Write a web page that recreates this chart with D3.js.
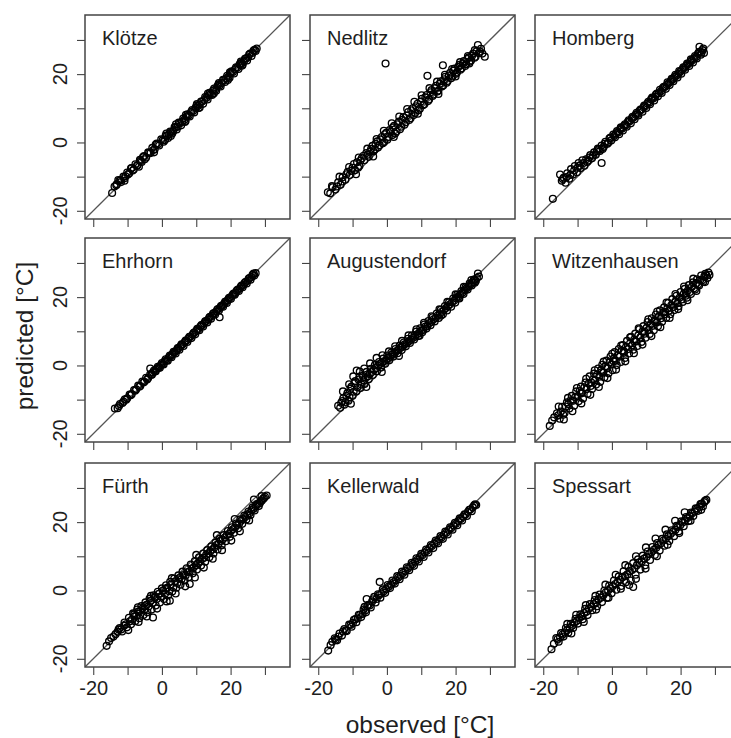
<!DOCTYPE html>
<html><head><meta charset="utf-8">
<script src="https://cdn.jsdelivr.net/npm/d3@7"></script>
<style>
html,body{margin:0;padding:0;background:#fff;}
svg{display:block;font-family:"Liberation Sans",Arial,Helvetica,sans-serif;}
</style></head>
<body>
<svg id="chart" width="731" height="738"></svg>
<script>
// ---- data: [observed, predicted] in °C ----
const stations = ["Klötze","Nedlitz","Homberg","Ehrhorn","Augustendorf","Witzenhausen","Fürth","Kellerwald","Spessart"];
const tickValues = [-20,-10,0,10,20,30];
const tickLabels = ["-20","","0","","20",""];
const xTitle = "observed [°C]";
const yTitle = "predicted [°C]";

const klotze = [[-14.5,-14.8],[-13.8,-12.9],[-13.1,-12.2],[-12.4,-11.3],[-11.9,-11.6],[-11.2,-10.0],[-10.6,-9.9],[-10.1,-8.8],[-9.5,-9.0],[-8.8,-7.5],[-8.2,-7.9],[-7.7,-6.4],[-7.1,-6.6],[-6.4,-5.1],[-5.9,-5.7],[-5.2,-4.0],[-4.6,-4.4],[-4.0,-2.9],[-3.3,-3.1],[-2.8,-1.6],[-2.1,-2.0],[-1.5,-0.3],[-0.8,-0.9],[-0.2,0.9],[0.5,0.2],[1.1,2.0],[1.8,1.3],[2.4,3.2],[3.0,2.6],[3.7,4.5],[4.3,3.8],[4.9,5.8],[5.6,5.0],[6.2,7.0],[6.9,6.3],[7.5,8.2],[8.1,7.6],[8.8,9.5],[9.4,8.8],[10.1,10.8],[10.7,10.1],[11.4,12.0],[12.0,11.3],[12.6,13.3],[13.3,12.6],[13.9,14.5],[14.6,13.9],[15.2,15.8],[15.8,15.1],[16.5,17.0],[17.1,16.4],[17.8,18.3],[18.4,17.7],[19.0,19.5],[19.7,18.9],[20.3,20.8],[21.0,20.2],[21.6,22.0],[22.3,21.5],[22.9,23.2],[23.5,22.8],[24.2,24.5],[24.8,24.0],[25.4,25.7],[26.1,25.3],[26.7,26.9],[27.3,26.8],[27.6,27.5],
[-13.3,-12.5],[-12.0,-11.0],[-10.9,-10.5],[-9.9,-9.4],[-8.5,-8.2],[-7.3,-6.9],[-6.2,-5.4],[-5.0,-4.9],[-3.7,-3.0],[-2.5,-2.2],[-1.1,-0.5],[0.2,0.6],[0.9,0.7],[1.5,1.9],[2.1,2.4],[2.7,3.0],[3.3,3.3],[4.0,4.4],[4.6,4.6],[5.3,5.6],[5.9,6.1],[6.5,6.6],[7.2,7.6],[7.8,7.9],[8.5,8.9],[9.1,9.2],[9.8,10.1],[10.4,10.6],[11.0,11.1],[11.7,12.0],[12.3,12.4],[13.0,13.1],[13.6,13.8],[14.2,14.1],[14.9,15.2],[15.5,15.4],[16.2,16.5],[16.8,16.7],[17.4,17.4],[18.1,18.2],[18.7,18.8],[19.4,19.2],[20.0,20.2],[20.7,20.6],[21.3,21.4],[22.0,21.9],[22.6,22.8],[23.2,23.1],[23.9,23.8],[24.5,24.6],[25.1,24.9],[25.7,26.0],[26.4,26.2],[27.0,27.1],
[-12.7,-11.0],[-9.0,-7.6],[-5.5,-4.3],[-1.8,-0.6],[1.3,2.6],[4.1,5.3],[7.0,8.1],[10.2,11.2],[13.4,14.3],[16.6,17.4],[19.8,20.5],[23.0,23.7],[-10.9,-11.2],[-6.7,-7.1],[-2.3,-2.9],[2.6,1.9],[6.7,6.0],[11.0,10.2],[15.1,14.3],[19.2,18.3],[23.4,22.5]];
const nedlitz = [[-17.2,-14.6],[-16.5,-14.9],[-15.8,-13.1],[-15.0,-13.8],[-14.2,-11.7],[-13.5,-12.4],[-12.9,-10.2],[-12.1,-10.9],[-11.4,-8.6],[-10.8,-9.5],[-10.0,-7.4],[-9.3,-8.1],[-8.7,-5.8],[-8.0,-6.9],[-7.3,-4.6],[-6.6,-5.2],[-6.0,-3.1],[-5.3,-4.2],[-4.6,-1.9],[-3.9,-2.6],[-3.3,-0.4],[-2.6,-1.5],[-1.9,0.9],[-1.2,-0.2],[-0.6,2.4],[0.1,0.8],[0.8,3.6],[1.5,2.1],[2.1,4.9],[2.8,3.2],[3.5,6.1],[4.2,4.6],[4.8,7.4],[5.5,5.9],[6.2,8.9],[6.9,7.1],[7.5,10.0],[8.2,8.6],[8.9,11.3],[9.6,9.9],[10.2,12.8],[10.9,11.2],[11.8,19.5],[11.6,13.9],[12.3,12.6],[13.0,15.3],[13.6,14.0],[14.3,16.6],[15.0,15.2],[15.7,17.9],[16.3,22.6],[16.4,16.7],[17.0,19.2],[17.7,18.0],[18.4,20.4],[19.1,19.3],[19.7,21.6],[20.4,20.5],[21.1,22.7],[21.8,21.7],[22.4,23.8],[23.1,22.9],[23.8,24.9],[24.5,24.0],[25.1,26.0],[25.8,25.1],[26.5,28.5],[27.1,26.6],[27.8,26.0],[28.5,25.1],[-0.4,23.1],
[-16.0,-12.8],[-14.6,-12.9],[-13.0,-11.4],[-11.8,-9.3],[-10.4,-8.3],[-9.6,-6.3],[-8.4,-7.4],[-7.7,-5.3],[-6.8,-3.9],[-5.6,-3.6],[-4.9,-2.7],[-4.2,-1.0],[-3.5,-2.0],[-2.8,0.3],[-2.1,-0.8],[-1.5,1.6],[-0.8,0.1],[-0.2,2.8],[0.5,1.6],[1.1,3.1],[1.8,4.4],[2.4,2.6],[3.1,5.3],[3.8,3.9],[4.5,6.6],[5.1,5.2],[5.8,7.9],[6.5,6.6],[7.1,9.4],[7.8,8.0],[8.5,10.6],[9.2,9.4],[9.9,12.0],[10.5,10.9],[11.2,13.2],[12.0,12.1],[12.7,14.7],[13.3,13.6],[14.0,15.9],[14.7,14.9],[15.4,17.2],[16.0,16.4],[16.7,18.5],[17.4,17.5],[18.0,19.6],[18.7,18.8],[19.4,21.0],[20.1,20.1],[20.8,22.1],[21.4,21.3],[22.1,23.1],[22.8,22.4],[23.4,24.4],[24.1,23.6],[24.8,25.4],[25.5,24.8],[26.1,26.7],[26.8,26.1],[27.4,27.4],
[-13.8,-10.0],[-11.0,-7.2],[-8.2,-4.4],[-5.7,-1.8],[-3.0,1.0],[-0.9,3.4],[1.4,5.6],[3.6,7.6],[5.9,9.8],[8.0,11.9],[10.1,13.8],[12.4,15.9],[14.6,17.8],[16.9,19.8],[19.0,21.5],[21.3,23.5],[23.6,25.3],[25.6,27.0],[-9.0,-9.3],[-4.0,-4.1],[2.0,1.6],[9.0,8.4],[15.0,14.2],[20.0,19.3],[24.0,23.1]];
const homberg = [[-17.2,-16.5],[-15.1,-9.4],[-14.6,-11.2],[-14.0,-10.3],[-13.5,-11.8],[-13.0,-9.0],[-12.4,-10.6],[-11.9,-7.8],[-11.3,-9.4],[-10.8,-6.9],[-10.2,-8.7],[-9.7,-6.0],[-9.1,-7.5],[-8.6,-5.2],[-8.0,-6.8],[-7.5,-4.9],[-6.9,-5.3],[-6.3,-3.7],[-5.8,-4.6],[-5.2,-2.9],[-4.7,-3.6],[-4.1,-1.8],[-3.5,-2.5],[-3.0,-6.0],[-3.0,-0.9],[-2.4,-1.3],[-1.9,0.2],[-1.3,-0.4],[-0.7,1.2],[-0.2,0.6],[0.4,2.3],[0.9,1.5],[1.5,3.3],[2.1,2.4],[2.6,4.4],[3.2,3.5],[3.8,5.3],[4.3,4.6],[4.9,6.5],[5.5,5.6],[6.0,7.5],[6.6,6.8],[7.2,8.7],[7.7,7.9],[8.3,9.6],[8.9,9.0],[9.4,10.8],[10.0,10.1],[10.6,11.9],[11.1,11.2],[11.7,13.1],[12.3,12.3],[12.8,14.0],[13.4,13.5],[14.0,15.4],[14.5,14.5],[15.1,16.3],[15.7,15.7],[16.2,17.6],[16.8,16.8],[17.4,18.6],[17.9,17.9],[18.5,19.8],[19.1,19.0],[19.6,20.9],[20.2,20.1],[20.8,22.0],[21.3,21.3],[21.9,23.1],[22.5,22.4],[23.0,24.3],[23.6,23.4],[24.2,25.3],[24.7,24.6],[25.3,26.4],[25.5,28.0],[25.9,25.7],[26.4,27.0],[26.8,26.2],
[-14.3,-10.7],[-13.2,-10.1],[-12.1,-9.5],[-11.0,-8.2],[-10.0,-7.4],[-9.4,-6.8],[-8.3,-6.0],[-7.2,-5.7],[-6.6,-4.4],[-5.5,-3.8],[-4.4,-2.6],[-3.8,-2.0],[-2.7,-1.9],[-2.1,-0.4],[-1.0,0.0],[-0.4,1.4],[0.6,1.9],[1.2,2.7],[1.8,2.9],[2.4,3.9],[2.9,4.0],[3.5,4.9],[4.1,5.0],[4.6,6.0],[5.2,6.2],[5.8,7.0],[6.3,7.3],[6.9,8.1],[7.5,8.3],[8.0,9.2],[8.6,9.6],[9.2,10.3],[9.7,10.6],[10.3,11.4],[10.9,11.6],[11.4,12.6],[12.0,12.9],[12.6,13.4],[13.1,14.3],[13.7,14.4],[14.3,15.0],[14.8,15.9],[15.4,16.2],[16.0,16.8],[16.5,17.3],[17.1,17.9],[17.7,18.4],[18.2,19.1],[18.8,19.5],[19.4,20.1],[19.9,20.7],[20.5,21.3],[21.1,21.8],[21.6,22.4],[22.2,22.9],[22.8,23.5],[23.3,24.0],[23.9,24.6],[24.5,25.0],[25.0,25.9],[25.7,26.6],[26.1,26.3],[26.6,27.5]];
const ehrhorn = [[-13.7,-12.6],[-12.9,-12.5],[-12.2,-11.3],[-11.5,-11.0],[-10.8,-9.9],[-10.1,-9.6],[-9.4,-8.5],[-8.8,-8.4],[-8.1,-7.2],[-7.5,-7.0],[-6.9,-5.9],[-6.3,-6.0],[-5.7,-4.7],[-5.1,-4.8],[-4.6,-3.6],[-4.0,-3.7],[-3.4,-0.9],[-3.4,-2.6],[-2.9,-2.7],[-2.3,-1.5],[-1.8,-1.7],[-1.2,-0.4],[-0.6,-0.7],[0.0,0.7],[0.5,0.3],[1.1,1.8],[1.7,1.4],[2.3,2.9],[2.8,2.4],[3.4,4.0],[4.0,3.5],[4.6,5.1],[5.1,4.6],[5.7,6.2],[6.3,5.7],[6.9,7.3],[7.4,6.9],[8.0,8.4],[8.6,8.0],[9.2,9.5],[9.7,9.1],[10.3,10.7],[10.9,10.3],[11.5,11.8],[12.0,11.4],[12.6,12.9],[13.2,12.6],[13.8,14.0],[14.3,13.7],[14.9,15.2],[15.5,14.9],[16.1,16.3],[16.8,14.1],[16.6,16.1],[17.2,17.4],[17.8,17.2],[18.4,18.6],[18.9,18.3],[19.5,19.7],[20.1,19.5],[20.7,20.8],[21.2,20.7],[21.8,21.9],[22.4,21.8],[23.0,23.1],[23.5,22.9],[24.1,24.2],[24.7,24.0],[25.3,25.4],[25.8,25.1],[26.4,26.5],[26.9,26.3],[27.3,27.0],
[-12.5,-11.9],[-11.2,-10.6],[-10.4,-10.0],[-9.1,-8.7],[-7.8,-7.4],[-6.6,-6.2],[-5.4,-5.0],[-4.3,-4.1],[-3.1,-2.7],[-2.6,-2.0],[-2.0,-1.8],[-1.5,-1.0],[-0.9,-0.6],[-0.3,0.1],[0.3,0.5],[0.8,1.2],[1.4,1.5],[2.0,2.3],[2.5,2.7],[3.1,3.3],[3.7,3.9],[4.3,4.4],[4.8,5.0],[5.4,5.6],[6.0,6.1],[6.6,6.8],[7.1,7.2],[7.7,7.9],[8.3,8.4],[8.9,9.0],[9.4,9.6],[10.0,10.1],[10.6,10.6],[11.2,11.4],[11.7,11.8],[12.3,12.3],[12.9,13.0],[13.5,13.4],[14.0,14.2],[14.6,14.5],[15.2,15.3],[15.8,15.7],[16.3,16.5],[16.9,16.8],[17.5,17.5],[18.1,18.0],[18.6,18.7],[19.2,19.1],[19.8,19.9],[20.4,20.3],[20.9,21.0],[21.5,21.3],[22.1,22.2],[22.7,22.5],[23.2,23.4],[23.8,23.6],[24.4,24.5],[25.0,24.8],[25.5,25.6],[26.1,25.9],[26.7,26.9]];
const augustendorf = [[-14.2,-11.8],[-13.6,-12.4],[-13.0,-10.4],[-12.4,-11.5],[-11.8,-8.9],[-11.2,-10.3],[-10.6,-6.8],[-10.0,-8.9],[-9.5,-5.2],[-8.8,-1.5],[-8.9,-7.6],[-8.3,-4.1],[-7.7,-6.6],[-7.1,-3.0],[-6.5,-5.4],[-5.9,-1.9],[-5.3,-4.0],[-4.7,-1.0],[-4.1,-2.8],[-3.5,0.1],[-2.9,-1.7],[-2.3,1.0],[-1.7,-0.6],[-1.1,2.0],[-0.5,0.5],[0.1,2.9],[0.7,1.5],[1.3,3.8],[1.9,2.6],[2.5,4.8],[3.1,3.6],[3.7,5.8],[4.3,4.5],[4.9,6.7],[5.5,5.6],[6.1,7.8],[6.7,6.6],[7.3,8.8],[7.9,7.6],[8.5,9.9],[9.1,8.6],[9.7,10.9],[10.3,9.7],[10.9,12.0],[11.5,10.8],[12.1,13.0],[12.7,11.8],[13.3,14.1],[13.9,12.9],[14.5,15.2],[15.1,13.9],[15.7,16.3],[16.3,15.0],[16.9,17.4],[17.5,16.1],[18.1,18.5],[18.7,17.2],[19.3,19.6],[19.9,18.4],[20.5,20.7],[21.1,19.6],[21.7,21.8],[22.3,20.9],[22.9,22.9],[23.5,22.2],[24.1,24.0],[24.7,23.4],[25.3,25.1],[25.9,24.7],[26.5,26.9],[26.8,26.0],
[-13.3,-10.9],[-12.7,-9.6],[-12.1,-10.7],[-11.5,-8.1],[-10.9,-9.3],[-10.3,-6.2],[-9.7,-7.7],[-9.2,-4.6],[-8.6,-6.4],[-8.0,-3.4],[-7.4,-5.6],[-6.8,-4.3],[-6.2,-3.6],[-5.6,-3.2],[-5.0,-2.6],[-4.4,-1.9],[-3.8,-1.3],[-3.2,-0.8],[-2.6,-0.1],[-2.0,0.4],[-1.4,0.8],[-0.8,1.2],[-0.2,1.6],[0.4,2.2],[1.0,2.6],[1.6,3.3],[2.2,3.6],[2.8,4.2],[3.4,4.6],[4.0,5.2],[4.6,5.5],[5.2,6.2],[5.8,6.5],[6.4,7.1],[7.0,7.5],[7.6,8.1],[8.2,8.4],[8.8,9.1],[9.4,9.5],[10.0,10.2],[10.6,10.4],[11.2,11.4],[11.8,11.5],[12.4,12.4],[13.0,12.8],[13.6,13.5],[14.2,13.9],[14.8,14.6],[15.4,15.0],[16.0,15.7],[16.6,16.2],[17.2,16.8],[17.8,17.3],[18.4,17.9],[19.0,18.5],[19.6,19.0],[20.2,19.7],[20.8,20.2],[21.4,20.8],[22.0,21.3],[22.6,22.0],[23.2,22.6],[23.8,23.1],[24.4,23.7],[25.0,24.3],[25.6,25.0],[26.2,25.6],
[-12.8,-7.6],[-11.0,-5.5],[-9.8,-3.2],[-7.9,-1.8],[-6.6,-0.9],[-4.9,0.6],[-3.0,2.2],[-1.3,3.0],[0.6,4.1],[2.4,5.6],[4.4,7.2],[6.3,8.8],[8.6,10.6],[10.8,12.5],[13.0,14.4],[15.3,16.4],[17.6,18.6],[20.0,20.8],[22.4,23.0],[24.6,25.0],[-10.5,-11.2],[-6.0,-6.3],[-1.5,-1.9],[3.5,2.8],[9.5,8.7],[15.8,14.6],[21.0,19.8],[25.6,24.2]];
const witzenhausen = [[-18.1,-17.7],[-16.8,-15.2],[-16.0,-14.0],[-15.2,-15.6],[-14.5,-12.1],[-13.8,-13.9],[-13.1,-10.8],[-12.4,-12.6],[-11.7,-8.9],[-11.0,-11.8],[-10.4,-7.6],[-9.7,-10.5],[-9.0,-6.2],[-8.4,-9.7],[-7.7,-5.0],[-7.1,-8.3],[-6.5,-3.2],[-5.8,-6.9],[-5.2,-2.4],[-4.6,-5.6],[-4.0,-0.9],[-3.4,-4.8],[-2.8,0.2],[-2.2,-3.5],[-1.6,1.4],[-1.0,-2.3],[-0.4,2.6],[0.2,-1.4],[0.8,3.9],[1.4,0.1],[2.0,4.8],[2.6,1.0],[3.2,6.0],[3.8,2.2],[4.4,7.2],[5.0,3.5],[5.6,8.4],[6.2,4.6],[6.8,9.3],[7.4,5.7],[8.0,10.6],[8.6,6.9],[9.2,11.5],[9.8,8.1],[10.4,12.7],[11.0,9.2],[11.6,13.8],[12.2,10.3],[12.8,14.9],[13.4,11.5],[14.0,16.1],[14.6,12.8],[15.2,17.0],[15.8,13.9],[16.4,18.3],[17.0,15.0],[17.6,19.4],[18.2,16.2],[18.8,20.4],[19.4,17.3],[20.0,21.5],[20.6,18.6],[21.2,22.4],[21.8,19.8],[22.4,23.5],[23.0,20.9],[23.6,24.3],[24.2,22.2],[24.8,25.2],[25.4,23.4],[26.0,26.3],[26.6,24.5],[27.2,26.8],[27.8,25.6],[28.4,26.5],[-12.0,-10.2],[-6.0,-5.0],[0.5,1.2],[6.5,7.0],[12.5,12.8],[18.5,18.6],[24.5,24.0],[-9.0,-8.2],[-3.0,-2.0],[3.5,4.1],[9.5,9.9],[15.5,15.7],[21.5,21.2],
[-17.4,-16.1],[-15.6,-14.6],[-14.9,-13.5],[-14.2,-14.4],[-13.4,-12.0],[-12.7,-11.3],[-11.3,-10.3],[-10.7,-9.3],[-10.0,-9.0],[-9.4,-7.5],[-8.7,-8.0],[-8.0,-6.4],[-7.4,-6.9],[-6.8,-5.3],[-6.2,-6.0],[-5.5,-4.1],[-4.9,-4.3],[-4.3,-2.7],[-3.7,-3.3],[-3.1,-1.3],[-2.5,-2.1],[-1.9,-0.2],[-1.3,-0.8],[-0.7,0.9],[-0.1,0.3],[0.5,2.0],[1.1,1.4],[1.7,3.0],[2.3,2.6],[2.9,4.3],[3.5,3.7],[4.1,5.4],[4.7,4.8],[5.3,6.5],[5.9,5.9],[6.5,7.6],[7.1,7.0],[7.7,8.8],[8.3,8.2],[8.9,9.9],[9.5,9.3],[10.1,11.0],[10.7,10.4],[11.3,12.1],[11.9,11.6],[12.5,13.2],[13.1,12.6],[13.7,14.4],[14.3,13.8],[14.9,15.5],[15.5,15.0],[16.1,16.6],[16.7,16.1],[17.3,17.6],[17.9,17.1],[18.5,18.7],[19.1,18.2],[19.7,19.8],[20.3,19.3],[20.9,20.9],[21.5,20.4],[22.1,21.9],[22.7,21.5],[23.3,23.0],[23.9,22.6],[24.5,24.0],[25.1,23.7],[25.7,25.0],[26.3,24.9],[26.9,26.0],[27.5,26.4],[28.1,27.2],
[-15.5,-12.0],[-12.8,-9.5],[-10.2,-6.6],[-7.5,-3.9],[-5.0,-1.4],[-2.4,1.1],[0.1,3.4],[2.7,5.8],[5.3,8.2],[7.8,10.9],[10.6,13.5],[13.2,15.8],[15.9,18.4],[18.5,20.9],[21.0,23.1],[23.7,25.4],[-14.0,-15.8],[-11.5,-13.4],[-8.9,-11.1],[-6.3,-8.6],[-3.8,-6.3],[-1.3,-3.7],[1.2,-1.2],[3.9,1.2],[6.4,3.6],[8.9,6.1],[11.5,8.6],[14.1,11.2],[16.8,13.9],[19.3,16.5],[22.0,19.1],[24.6,21.8],[27.1,24.4]];
const furth = [[-16.1,-16.2],[-14.8,-13.9],[-13.5,-12.8],[-12.3,-11.0],[-11.6,-12.0],[-10.9,-9.4],[-10.2,-10.8],[-9.6,-8.0],[-9.0,-9.9],[-8.4,-6.7],[-7.8,-9.0],[-7.2,-5.6],[-6.6,-8.1],[-6.0,-4.6],[-5.4,-7.2],[-4.8,-3.5],[-4.2,-6.4],[-3.6,-2.4],[-3.0,-5.6],[-2.6,-7.9],[-2.4,-1.4],[-1.8,-4.4],[-1.2,-0.4],[-0.6,-3.5],[0.0,0.6],[0.6,-2.5],[1.2,1.5],[1.8,-1.4],[2.3,-3.0],[2.4,2.5],[3.0,-0.3],[3.6,3.5],[4.2,0.8],[4.8,4.4],[5.4,1.7],[6.0,5.5],[6.6,2.9],[7.2,6.5],[8.1,1.9],[7.8,3.9],[8.4,7.6],[9.0,5.0],[9.6,8.6],[10.2,6.1],[10.8,9.7],[11.4,7.3],[12.0,10.8],[12.6,8.4],[13.2,11.8],[13.8,9.7],[14.4,12.9],[15.0,10.8],[15.6,14.0],[16.2,12.0],[16.8,15.1],[17.4,13.2],[18.0,16.2],[18.6,14.4],[19.2,17.4],[19.8,15.7],[20.4,18.5],[21.0,16.9],[21.6,19.6],[22.2,18.2],[22.8,20.8],[23.4,19.5],[24.0,21.9],[24.6,20.8],[25.2,23.1],[25.8,22.1],[26.4,24.3],[27.0,23.4],[27.6,25.3],[28.2,24.7],[28.8,26.1],[29.4,26.8],[30.0,27.4],[30.5,27.8],[-11.0,-10.3],[-5.0,-4.6],[1.0,0.5],[-8.0,-7.6],[-2.0,-1.8],
[-15.4,-14.9],[-14.1,-13.5],[-12.9,-12.1],[-11.9,-11.4],[-10.5,-9.9],[-9.3,-9.0],[-8.7,-8.5],[-8.1,-7.0],[-7.5,-7.4],[-6.9,-6.2],[-6.3,-6.0],[-5.7,-5.3],[-5.1,-5.6],[-4.5,-4.2],[-3.9,-4.7],[-3.3,-3.0],[-2.7,-3.6],[-2.1,-2.1],[-1.5,-2.5],[-0.9,-1.0],[-0.3,-1.8],[0.3,0.0],[0.9,-1.0],[1.5,0.8],[2.1,-0.2],[2.7,1.8],[3.3,0.9],[3.9,2.7],[4.5,2.2],[5.1,3.6],[5.7,3.3],[6.3,4.5],[6.9,4.4],[7.5,5.4],[8.1,5.6],[8.7,6.4],[9.3,6.8],[9.9,7.4],[10.5,8.0],[11.1,8.5],[11.7,9.2],[12.3,9.6],[12.9,10.4],[13.5,10.8],[14.1,11.5],[14.7,12.0],[15.3,12.6],[15.9,13.3],[16.5,13.7],[17.1,14.5],[17.7,14.9],[18.3,15.5],[18.9,16.2],[19.5,16.6],[20.1,17.4],[20.7,17.9],[21.3,18.4],[21.9,19.2],[22.5,19.6],[23.1,20.4],[23.7,20.9],[24.3,21.5],[24.9,22.2],[25.5,22.6],[26.1,23.5],[26.7,23.9],[27.3,24.6],[27.9,25.3],[28.5,25.5],[29.1,26.3],[29.7,27.0],
[-9.8,-11.6],[-6.8,-9.2],[-4.4,-7.6],[-1.4,-5.3],[1.4,-3.2],[4.0,-0.9],[6.8,1.2],[9.6,3.8],[12.2,6.7],[14.8,9.3],[17.5,11.8],[20.2,14.6],[22.7,17.3],[25.4,20.5],[-12.6,-11.4],[-7.0,-4.9],[-3.2,-1.6],[2.9,3.6],[10.0,10.4],[16.0,16.2],[21.2,20.9],[26.8,26.6],[29.0,27.6]];
const kellerwald = [[-17.1,-17.6],[-15.9,-15.0],[-15.2,-14.0],[-14.5,-14.6],[-13.8,-12.6],[-13.1,-13.2],[-12.4,-11.3],[-11.7,-11.9],[-11.0,-10.0],[-10.3,-10.6],[-9.6,-8.6],[-8.9,-9.3],[-8.2,-7.1],[-7.5,-7.8],[-6.8,-5.6],[-6.1,-6.4],[-5.9,-2.5],[-5.4,-4.2],[-4.7,-5.0],[-4.0,-2.6],[-3.3,-3.5],[-2.6,-1.1],[-2.1,2.5],[-1.9,-2.1],[-1.2,0.3],[-0.5,-0.7],[0.2,1.6],[0.9,0.7],[1.6,2.9],[2.3,2.0],[3.0,4.2],[3.7,3.3],[4.4,5.5],[5.1,4.6],[5.8,6.8],[6.5,5.9],[7.2,8.1],[7.9,7.2],[8.6,9.4],[9.3,8.5],[10.0,10.7],[10.7,9.8],[11.4,12.0],[12.1,11.1],[12.8,13.3],[13.5,12.4],[14.2,14.6],[14.9,13.8],[15.6,15.9],[16.3,15.1],[17.0,17.2],[17.7,16.4],[18.4,18.5],[19.1,17.8],[19.8,19.8],[20.5,19.1],[21.2,21.1],[21.9,20.5],[22.6,22.3],[23.3,21.8],[24.0,23.6],[24.7,23.2],[25.4,24.9],[26.0,25.0],
[-16.4,-16.0],[-14.9,-14.4],[-14.1,-13.5],[-12.8,-12.0],[-12.0,-11.7],[-10.6,-10.1],[-9.9,-9.5],[-9.2,-8.4],[-8.5,-8.2],[-7.8,-7.1],[-7.1,-6.9],[-6.5,-4.8],[-6.3,-5.9],[-5.7,-4.6],[-5.0,-4.4],[-4.3,-3.2],[-3.7,-1.9],[-3.0,-2.5],[-2.3,-1.4],[-1.6,-0.9],[-0.9,-0.2],[-0.2,0.4],[0.5,1.1],[1.2,1.7],[1.9,2.4],[2.6,3.0],[3.3,3.8],[4.0,4.3],[4.7,5.1],[5.4,5.7],[6.1,6.4],[6.8,7.0],[7.5,7.7],[8.2,8.4],[8.9,9.0],[9.6,9.8],[10.3,10.3],[11.0,11.1],[11.7,11.6],[12.4,12.4],[13.1,13.0],[13.8,13.7],[14.5,14.2],[15.2,15.0],[15.9,15.5],[16.6,16.3],[17.3,16.9],[18.0,17.7],[18.7,18.2],[19.4,19.0],[20.1,19.5],[20.8,20.3],[21.5,20.9],[22.2,21.6],[22.9,22.2],[23.6,23.0],[24.3,23.7],[25.0,24.3],[25.7,25.2]];
const spessart = [[-17.6,-17.2],[-16.2,-13.9],[-15.5,-15.0],[-14.8,-12.5],[-14.1,-13.5],[-13.4,-11.0],[-12.7,-12.4],[-12.0,-9.8],[-11.3,-11.0],[-10.6,-8.3],[-9.9,-9.7],[-9.2,-7.0],[-8.5,-8.4],[-7.8,-5.4],[-7.1,-7.2],[-6.4,-4.0],[-5.7,-5.8],[-5.0,-2.8],[-4.3,-4.6],[-3.6,-1.2],[-2.9,-3.4],[-2.2,0.0],[-1.5,-2.2],[-0.8,1.4],[-0.1,-0.8],[0.6,2.9],[1.3,0.2],[2.0,4.1],[2.7,1.3],[3.4,5.6],[4.1,2.4],[4.8,6.9],[5.5,2.9],[6.2,1.0],[6.2,8.0],[6.9,4.6],[7.6,9.1],[8.3,6.1],[9.0,10.2],[9.7,7.4],[10.4,11.4],[11.1,8.9],[11.8,12.7],[12.5,10.4],[13.2,13.9],[13.9,11.7],[14.6,15.1],[15.3,13.1],[16.0,16.4],[16.7,14.5],[17.4,17.6],[18.1,15.9],[18.8,18.9],[19.5,17.3],[20.2,20.2],[20.9,18.8],[21.6,21.5],[22.3,20.3],[23.0,22.8],[23.7,21.8],[24.4,24.0],[25.1,23.3],[25.8,25.3],[26.5,24.6],[27.1,26.2],[27.5,26.5],
[-16.9,-15.6],[-15.8,-14.2],[-15.1,-13.7],[-14.4,-12.9],[-13.7,-12.3],[-13.0,-11.6],[-12.3,-11.0],[-11.6,-10.3],[-10.9,-9.4],[-10.2,-8.9],[-9.5,-8.0],[-8.8,-7.6],[-8.1,-6.6],[-7.4,-6.2],[-6.7,-5.3],[-6.0,-4.8],[-5.3,-4.0],[-4.6,-3.5],[-3.9,-2.6],[-3.2,-2.1],[-2.5,-1.4],[-1.8,-0.6],[-1.1,0.0],[-0.4,0.6],[0.3,1.3],[1.0,1.9],[1.7,2.5],[2.4,3.1],[3.1,3.9],[3.8,4.2],[4.5,4.7],[5.2,5.6],[5.9,6.0],[6.6,6.5],[7.3,7.4],[8.0,8.1],[8.7,8.5],[9.4,9.3],[10.1,9.8],[10.8,10.6],[11.5,11.2],[12.2,11.9],[12.9,12.5],[13.6,13.3],[14.3,13.8],[15.0,14.6],[15.7,15.1],[16.4,15.9],[17.1,16.5],[17.8,17.2],[18.5,17.8],[19.2,18.6],[19.9,19.1],[20.6,19.9],[21.3,20.5],[22.0,21.2],[22.7,21.8],[23.4,22.6],[24.1,23.1],[24.8,23.9],[25.5,24.5],[26.2,25.4],[26.9,25.8],
[-13.0,-9.8],[-10.4,-7.1],[-7.6,-4.3],[-4.8,-1.6],[-1.9,1.7],[1.1,4.6],[3.9,7.4],[7.0,10.0],[9.9,12.6],[12.7,15.2],[15.6,17.8],[18.4,20.4],[21.2,22.9],[-11.8,-12.6],[-8.2,-9.2],[-4.6,-5.6],[-1.0,-2.1],[2.6,0.5],[5.0,1.6],[7.0,3.4],[9.8,6.4],[13.1,10.0],[16.2,13.4],[19.6,16.8],[22.9,20.4],[26.0,23.6]];

const series = [klotze, nedlitz, homberg, ehrhorn, augustendorf, witzenhausen, furth, kellerwald, spessart];

// ---- layout ----
const colLeft = [85, 310, 535];
const rowTop = [15, 238, 463];
const pw = 205, ph = 204;
const domain = [-22.4, 37.3];
const ink = "#1e1e1e";

const svg = d3.select("#chart");
svg.append("rect").attr("width",731).attr("height",738).attr("fill","#fff");

stations.forEach((name, i) => {
  const r = Math.floor(i / 3), c = i % 3;
  const L = colLeft[c], T = rowTop[r];
  const x = d3.scaleLinear().domain(domain).range([L, L + pw]);
  const y = d3.scaleLinear().domain(domain).range([T + ph, T]);
  const g = svg.append("g");

  const clipId = "clip" + i;
  svg.append("clipPath").attr("id", clipId)
    .append("rect").attr("x", L).attr("y", T).attr("width", pw).attr("height", ph);

  // 1:1 line
  g.append("line")
    .attr("clip-path", `url(#${clipId})`)
    .attr("x1", x(domain[0])).attr("y1", y(domain[0]))
    .attr("x2", x(domain[1])).attr("y2", y(domain[1]))
    .attr("stroke", "#555").attr("stroke-width", 1.3);

  // points
  g.append("g").attr("clip-path", `url(#${clipId})`)
    .selectAll("circle").data(series[i]).join("circle")
    .attr("cx", d => x(d[0])).attr("cy", d => y(d[1]))
    .attr("r", 3.4)
    .attr("fill", "none").attr("stroke", "#000").attr("stroke-width", 1.35);

  // x axis
  const xa = g.append("g").attr("transform", `translate(0,${T + ph})`)
    .call(d3.axisBottom(x).tickValues(tickValues).tickSize(8).tickPadding(6)
      .tickFormat((d, k) => r === 2 ? tickLabels[k] : ""));
  xa.select(".domain").remove();
  xa.selectAll(".tick line").attr("stroke", "#444").attr("stroke-width", 1.1);
  xa.selectAll(".tick text").attr("font-size", 20).attr("fill", ink)
    .attr("font-family", "Liberation Sans, Arial, sans-serif");

  // y axis
  const ya = g.append("g").attr("transform", `translate(${L},0)`)
    .call(d3.axisLeft(y).tickValues(tickValues).tickSize(8).tickFormat(""));
  ya.select(".domain").remove();
  ya.selectAll(".tick line").attr("stroke", "#444").attr("stroke-width", 1.1);
  if (c === 0) {
    g.selectAll(".ylab").data(tickValues).join("text")
      .attr("class", "ylab")
      .attr("transform", d => `translate(${L - 18},${y(d)}) rotate(-90)`)
      .attr("text-anchor", "middle")
      .attr("font-size", 20).attr("fill", ink)
      .text((d, k) => tickLabels[k]);
  }

  // frame
  g.append("rect").attr("x", L).attr("y", T).attr("width", pw).attr("height", ph)
    .attr("fill", "none").attr("stroke", "#444").attr("stroke-width", 1.5);

  // panel title
  g.append("text").attr("x", L + 17).attr("y", T + 30)
    .attr("font-size", 20).attr("fill", ink).text(name);
});

// axis titles
svg.append("text").attr("x", 420).attr("y", 733).attr("text-anchor", "middle")
  .attr("font-size", 24.5).attr("fill", ink).text(xTitle);
svg.append("text").attr("transform", "translate(33,336) rotate(-90)")
  .attr("text-anchor", "middle").attr("font-size", 24.5).attr("fill", ink).text(yTitle);
</script>
</body></html>
